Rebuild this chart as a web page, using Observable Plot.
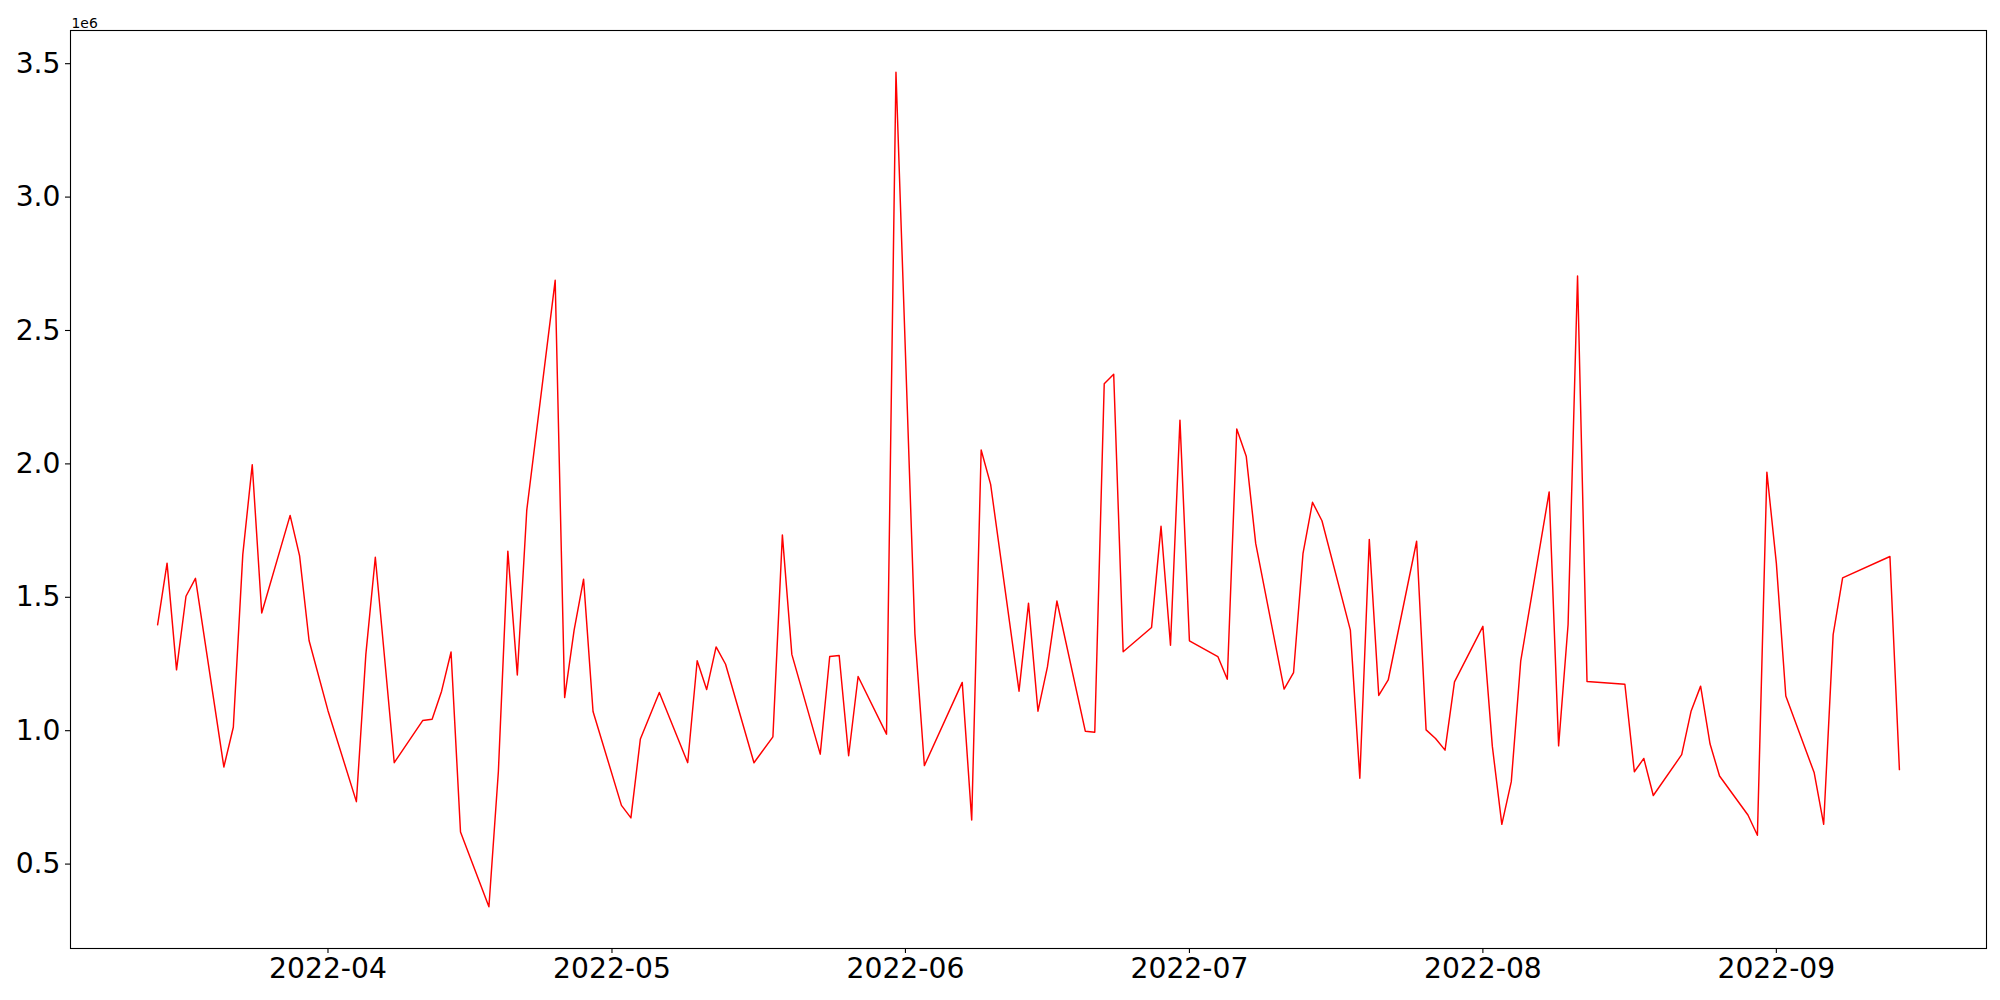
<!DOCTYPE html>
<html>
<head>
<meta charset="utf-8">
<script src="https://cdn.jsdelivr.net/npm/d3@7"></script>
<script src="https://cdn.jsdelivr.net/npm/@observablehq/plot@0.6"></script>
<style>
  html, body { margin: 0; padding: 0; background: #fff; }
  #chart svg { display: block; }
</style>
</head>
<body>
<div id="chart"></div>
<script>
const dates = [
  "2022-03-14","2022-03-15","2022-03-16","2022-03-17","2022-03-18",
  "2022-03-21","2022-03-22","2022-03-23","2022-03-24","2022-03-25",
  "2022-03-28","2022-03-29","2022-03-30","2022-04-01",
  "2022-04-04","2022-04-05","2022-04-06","2022-04-08",
  "2022-04-11","2022-04-12","2022-04-13","2022-04-14","2022-04-15",
  "2022-04-18","2022-04-19","2022-04-20","2022-04-21","2022-04-22",
  "2022-04-25","2022-04-26","2022-04-27","2022-04-28","2022-04-29",
  "2022-05-02","2022-05-03","2022-05-04","2022-05-06",
  "2022-05-09","2022-05-10","2022-05-11","2022-05-12","2022-05-13",
  "2022-05-16","2022-05-18","2022-05-19","2022-05-20",
  "2022-05-23","2022-05-24","2022-05-25","2022-05-26","2022-05-27",
  "2022-05-30","2022-05-31","2022-06-02","2022-06-03",
  "2022-06-07","2022-06-08","2022-06-09","2022-06-10",
  "2022-06-13","2022-06-14","2022-06-15","2022-06-16","2022-06-17",
  "2022-06-20","2022-06-21","2022-06-22","2022-06-23","2022-06-24",
  "2022-06-27","2022-06-28","2022-06-29","2022-06-30","2022-07-01",
  "2022-07-04","2022-07-05","2022-07-06","2022-07-07","2022-07-08",
  "2022-07-11","2022-07-12","2022-07-13","2022-07-14","2022-07-15",
  "2022-07-18","2022-07-19","2022-07-20","2022-07-21","2022-07-22",
  "2022-07-25","2022-07-26","2022-07-27","2022-07-28","2022-07-29",
  "2022-08-01","2022-08-02","2022-08-03","2022-08-04","2022-08-05",
  "2022-08-08","2022-08-09","2022-08-10","2022-08-11","2022-08-12",
  "2022-08-16","2022-08-17","2022-08-18","2022-08-19",
  "2022-08-22","2022-08-23","2022-08-24","2022-08-25","2022-08-26",
  "2022-08-29","2022-08-30","2022-08-31","2022-09-01","2022-09-02",
  "2022-09-05","2022-09-06","2022-09-07","2022-09-08",
  "2022-09-13","2022-09-14"
];
const values = [
  1397000,1628000,1228000,1504000,1571000,
  864000,1013000,1660000,1997000,1441000,
  1807000,1655000,1338000,1075000,
  734000,1286000,1650000,880000,
  1038000,1043000,1148000,1295000,620000,
  340000,847000,1673000,1209000,1827000,
  2688000,1124000,1377000,1568000,1072000,
  720000,673000,969000,1143000,
  880000,1262000,1154000,1314000,1249000,
  880000,977000,1734000,1286000,
  912000,1278000,1282000,906000,1203000,
  987000,3468000,1363000,869000,
  1181000,665000,2052000,1923000,
  1148000,1478000,1073000,1239000,1486000,
  998000,994000,2300000,2336000,1296000,
  1387000,1766000,1320000,2164000,1337000,
  1278000,1193000,2131000,2029000,1702000,
  1156000,1218000,1665000,1856000,1787000,
  1377000,822000,1717000,1132000,1190000,
  1710000,1003000,971000,927000,1183000,
  1391000,941000,649000,809000,1262000,
  1895000,943000,1398000,2704000,1184000,
  1174000,846000,896000,757000,
  910000,1074000,1167000,950000,830000,
  684000,608000,1969000,1628000,1130000,
  842000,649000,1360000,1573000,
  1653000,854000
];
const yTicks = [500000,1000000,1500000,2000000,2500000,3000000,3500000];
const xTicks = ["2022-04-01","2022-05-01","2022-06-01","2022-07-01","2022-08-01","2022-09-01"];
const offsetLabel = "1e6";

const data = dates.map((d, i) => ({date: new Date(d + "T00:00:00Z"), value: values[i]}));

// matplotlib-style 5% margins
const [x0, x1] = d3.extent(data, d => +d.date);
const xPad = (x1 - x0) * 0.05;
const [y0, y1] = d3.extent(values);
const yPad = (y1 - y0) * 0.05;

const fmtMonth = d3.utcFormat("%Y-%m");

const chart = Plot.plot({
  width: 2000,
  height: 1000,
  marginLeft: 70,
  marginRight: 14,
  marginTop: 30,
  marginBottom: 52,
  style: {fontFamily: "'DejaVu Sans', sans-serif", background: "#fff", color: "#000"},
  x: {type: "utc", domain: [new Date(x0 - xPad), new Date(x1 + xPad)]},
  y: {domain: [y0 - yPad, y1 + yPad]},
  marks: [
    Plot.line(data, {x: "date", y: "value", stroke: "red", strokeWidth: 1.45}),
    Plot.frame({stroke: "black", strokeWidth: 1.1}),
    Plot.axisX({
      ticks: xTicks.map(d => new Date(d + "T00:00:00Z")),
      tickFormat: fmtMonth,
      tickSize: 5,
      tickPadding: 4,
      fontSize: 28.2,
      label: null,
      strokeWidth: 1.1
    }),
    Plot.axisY({
      ticks: yTicks,
      tickFormat: d => (d / 1e6).toFixed(1),
      tickSize: 5,
      tickPadding: 5,
      fontSize: 28.2,
      label: null,
      strokeWidth: 1.1
    }),
    Plot.text([offsetLabel], {
      frameAnchor: "top-left",
      text: d => d,
      textAnchor: "start",
      lineAnchor: "bottom",
      dy: -3,
      dx: 1,
      fontSize: 13.9
    })
  ]
});
document.getElementById("chart").appendChild(chart);
</script>
</body>
</html>
